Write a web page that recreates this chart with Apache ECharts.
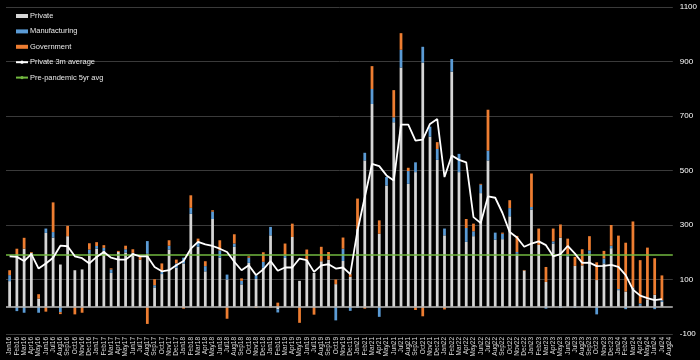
<!DOCTYPE html>
<html>
<head>
<meta charset="utf-8">
<script src="https://cdn.jsdelivr.net/npm/echarts@6/dist/echarts.min.js"></script>
<style>
html,body{margin:0;padding:0;background:#000;}
#chart{width:700px;height:360px;}
</style>
</head>
<body>
<div id="chart"></div>
<script>
const categories = [
 'Jan16','Feb16','Mar16','Apr16','May16','Jun16','Jul16','Aug16','Sep16','Oct16','Nov16','Dec16',
 'Jan17','Feb17','Mar17','Apr17','May17','Jun17','Jul17','Aug17','Sep17','Oct17','Nov17','Dec17',
 'Jan18','Feb18','Mar18','Apr18','May18','Jun18','Jul18','Aug18','Sep18','Oct18','Nov18','Dec18',
 'Jan19','Feb19','Mar19','Apr19','May19','Jun19','Jul19','Aug19','Sep19','Oct19','Nov19','Dec19',
 'Jan21','Feb21','Mar21','Apr21','May21','Jun21','Jul21','Aug21','Sep21','Oct21','Nov21','Dec21',
 'Jan22','Feb22','Mar22','Apr22','May22','Jun22','Jul22','Aug22','Sep22','Oct22','Nov22','Dec22',
 'Jan23','Feb23','Mar23','Apr23','May23','Jun23','Jul23','Aug23','Sep23','Oct23','Nov23','Dec23',
 'Jan24','Feb24','Mar24','Apr24','May24','Jun24','Jul24','Aug24'
];

const privateVals = [
 94,193,213,198,30,271,254,155,259,134,137,195,213,205,124,201,199,198,173,195,71,120,210,
 143,159,341,220,130,322,180,100,220,82,161,102,143,262,-9,179,256,95,173,124,167,173,83,
 168,110,285,537,744,268,445,677,878,451,494,896,624,539,262,863,494,238,259,417,537,246,248,
 332,195,133,357,227,91,232,254,185,150,152,195,98,159,215,61,56,71,5,27,44,18,null
];

const manufacturingVals = [
 22,-16,-22,0,-22,16,20,-20,0,0,0,15,10,11,13,0,12,0,0,46,8,8,14,
 16,21,22,14,19,27,27,18,12,13,19,13,22,31,-12,9,0,0,0,0,0,0,-50,
 45,-15,-3,28,55,-37,31,18,65,47,36,58,37,40,25,46,67,51,18,31,36,26,20,
 30,6,0,9,0,-7,8,-4,8,-4,0,12,-28,18,9,4,-9,0,7,0,-9,6,null
];

const governmentVals = [
 18,20,40,3,16,-18,109,-7,38,-28,-22,23,14,10,4,4,13,13,15,-63,22,31,20,
 14,-7,46,16,18,5,37,-44,34,9,5,-4,35,-3,15,44,49,-59,37,-29,53,28,17,
 41,10,112,-7,84,49,0,100,61,12,-12,-35,0,25,-10,0,0,33,28,3,150,0,4,
 29,59,2,123,60,55,47,48,57,33,59,52,65,28,76,196,179,242,159,190,134,91,null
];

const private3mAvg = [
 185,183,168,193,140,159,180,224,222,185,178,159,183,201,180,173,173,193,185,185,146,130,134,
 152,168,213,238,229,223,213,201,165,134,152,116,137,168,132,144,144,177,171,128,152,156,140,
 144,120,280,402,524,516,482,463,668,668,610,613,671,689,476,555,539,530,329,307,405,400,344,
 274,254,220,232,240,226,185,193,223,195,161,162,149,150,154,146,116,63,41,32,24,28,null
];

const prePandemicAvg = 190;

const yAxisMin = -100, yAxisMax = 1100, yAxisStep = 200;

const FONT = 'Liberation Sans';
const chart = echarts.init(document.getElementById('chart'), null, {renderer: 'canvas'});

chart.setOption({
  backgroundColor: '#000',
  animation: false,
  textStyle: { fontFamily: FONT },
  grid: { left: 6, right: 24, top: 7, bottom: 26, containLabel: false },
  legend: {
    orient: 'vertical', left: 10, top: 7,
    itemWidth: 12, itemHeight: 4, itemGap: 7.4,
    textStyle: { color: '#e8e8e8', fontSize: 7.5, fontFamily: FONT, padding: [0, 0, 0, -3] },
    data: [
      { name: 'Private', icon: 'rect' },
      { name: 'Manufacturing', icon: 'rect' },
      { name: 'Government', icon: 'rect' },
      { name: 'Private 3m average' },
      { name: 'Pre-pandemic 5yr avg' }
    ]
  },
  xAxis: {
    type: 'category', data: categories, boundaryGap: true,
    axisLine: { show: false, onZero: false }, axisTick: { show: false },
    axisLabel: { rotate: 90, interval: 0, color: '#dcdcdc', fontSize: 6.5, margin: 3, fontFamily: FONT },
    splitLine: { show: false }
  },
  yAxis: {
    type: 'value', position: 'right',
    min: yAxisMin, max: yAxisMax, interval: yAxisStep,
    axisLine: { show: false, onZero: false },
    axisTick: { show: false },
    axisLabel: { color: '#ffffff', fontSize: 8, margin: 7, fontFamily: FONT,
      hideOverlap: false, formatter: v => '' + v },
    splitLine: { show: true, lineStyle: { color: '#3a3a3a', width: 1 } }
  },
  series: [
    {
      name: 'Private', type: 'bar', stack: 'jobs', data: privateVals,
      barWidth: '38%', itemStyle: { color: '#d6d6d6' },
      markLine: {
        silent: true, symbol: 'none', label: { show: false },
        lineStyle: { color: '#bdbdbd', width: 1.5, type: 'solid' },
        data: [{ yAxis: 0 }]
      }
    },
    { name: 'Manufacturing', type: 'bar', stack: 'jobs', data: manufacturingVals,
      barWidth: '38%', itemStyle: { color: '#5b9bd5' } },
    { name: 'Government', type: 'bar', stack: 'jobs', data: governmentVals,
      barWidth: '38%', itemStyle: { color: '#ed7d31' } },
    {
      name: 'Private 3m average', type: 'line', data: private3mAvg,
      symbol: 'none', z: 5, color: '#ffffff',
      lineStyle: { color: '#ffffff', width: 1.8 }
    },
    {
      name: 'Pre-pandemic 5yr avg', type: 'line', data: [],
      symbol: 'none', z: 4, color: '#72b83f',
      lineStyle: { color: '#72b83f', width: 1.5 },
      markLine: {
        silent: true, symbol: 'none', label: { show: false },
        lineStyle: { color: '#72b83f', width: 1.5, type: 'solid' },
        data: [{ yAxis: prePandemicAvg }]
      }
    }
  ]
});
</script>
</body>
</html>
